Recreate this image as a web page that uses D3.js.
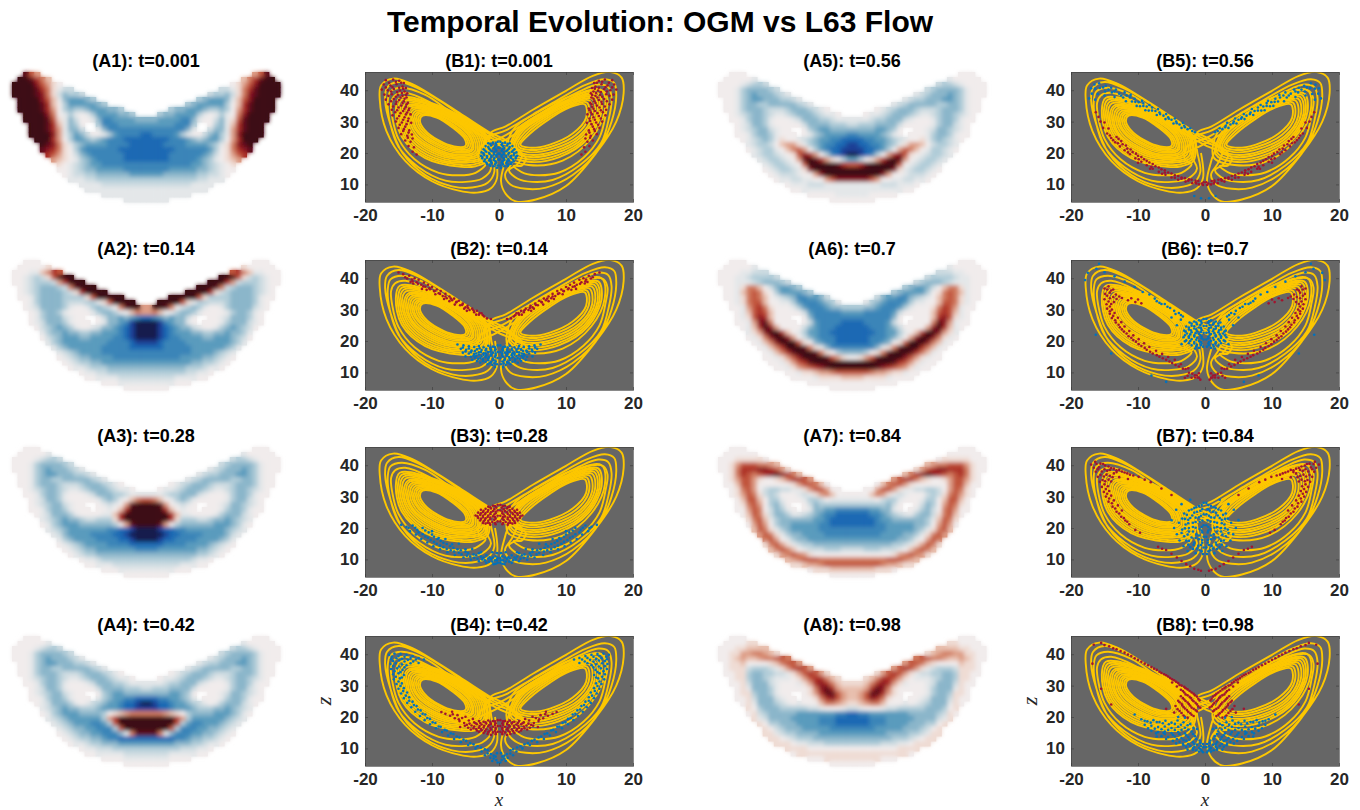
<!DOCTYPE html>
<html>
<head>
<meta charset="utf-8">
<style>
  html, body { margin: 0; padding: 0; background: #fff; }
  svg { display: block; }
  text { font-family: "Liberation Sans", Arial, sans-serif; }
</style>
<script src="https://cdn.jsdelivr.net/npm/d3@7"></script>
</head>
<body>
<svg id="fig" width="1360" height="810"></svg>
<script>
// heat map cells, left half only, the maps are mirror images
// '.' blank, a..i blue from weak to strong, 0 neutral, 1..9 red from weak to strong
const gridA1 = ["..853",".998642","999975310","99998641abb","99998741bdccb",".9999752adeeedc",".99998620ceeeeedc",".99998630cdccdeeeddc","..9999740aca0aceeeeddc","..9999851adb00adffeeeedd","...999862adc0..cfffeeeee","...999863addb..adfffffff","...999973acedb00aceffffg","....999630ceedcdefffgggg",".....98741acdeeeeffffggg",".....876410ceffffffggggg","......65310bdeffffffgggg",".......3210acdefffffgggg","........10abcdeeffffffff","........00abcddeeeeeffff",".........0abbccddddddeee","..........aaabbccccccccc","............aaaabbbbbbbb",".............aaaaaaaaaaa","................aaaaaaaa","....................aaaa"];
const gridA2 = ["..000",".000001","000aa2465","00abcb15999","00abcccb36999",".0abcdddcb48999",".0abcddddcb169999",".00acddddcccc1599999","..0acddddcbbbcca159999","..0abddddca00acdcb048993","...0acddca0000acddca0243","...0acdddba00..0bddedefg","...0abdddca000.0addefhii","....0bcdedca00abddefghii",".....acddeddccddeeefghii",".....0bcdeeeddeeeeffghii","......acdeeeeeeeeffffghh",".......acdeeeeeefffffggg","........abcdeeeeffffffff","........0abcddeeeeffffff",".........0abccddeeeeeeee","..........0aabcccddddddd","............0aabbccccccc",".............00aaaabbbbb","................000aaaaa","....................0000"];
const gridA3 = ["..000",".00000a","0000abccb","000acddddcb","000acdedddcba",".00acdeedddccba",".00acddccdddddcba",".00acdddcbbbcdddcba0","..0abcddcbaabcdddcbaa0","..00acddca000abdddccbaaa","...0abddca00000acdca0245","...0abcddba00..0aba03899","...00acddca000.00a026999","....0abdddca0000aa269999",".....abcdeddcbbccc169999",".....0acdeeeddddddc03899","......abcdeeeeeeeffgghii",".......abdeeeeffffgghiii","........acdeeeeffffgghii","........0abcdeeeeffffggg",".........0abcddeeeeeeeff","..........0abccddddddddd","............0aabcccccccc",".............00aaabbbbbb","................000aaaaa","....................0000"];
const gridA4 = ["..000",".00000a","0000abccb","000acddddcb","000acdedddcba",".00acdeedddccba",".00acddccdddddcba",".00acdddcbbbcdddcba0","..0abcddcbaabcdddcbaa0","..00acddca000abdddccbaaa","...0abddca00000bddddcccb","...0abcddba00..0cdeedddd","...00acddca000.acdeeffgg","....0abdddca0abcdeefgghi",".....abcdeddcccdeeefgghh",".....0acdeeeddddc0123444","......abcdeeeeeec3699999",".......abcdeeeffec599999","........abcddeefffc59999","........0abcddeefffda488",".........0abccddeffggggg","..........0aabccdddeeeee","............0aabbbcccccc",".............00aaaaabbbb","................0000aaaa","....................0000"];
const gridA5 = ["..000",".00000a","0000abccb","000acddddcb","000acdedddcba",".00acdeedddccba",".00acddccdddddcba",".00acdddcbbbcdddcba0","..0abcddcbaabcdddcbaa0","..00acddca000abdddccbaaa","...0abddca00000bddddcccb","...0abcddba00..0cdeedddd","...00acddca000.0acdeeeef","....0abcdca100abcdeeffgg",".....abccb02331acdeffggh",".....0abcca024530cefgghh","......abccba0157630cfghi",".......abccba038986310ce","........abccba0599999865","........0abccba179999999",".........0abbba003799999","..........0aabbaa0035777","............0aaabbbaaaaa",".............00aaaaaaaaa","................00000aaa","....................0000"];
const gridA6 = ["..000",".00000a","0000aabbb","000aabccccb","000aaabcdddcb",".00a14420bdeedc",".00a245410ceeeedc",".00a145420abcdffeedb","..0a1455200aacefffedca","..00a35641000acefffeddcc","...0a2565200000befffffee","...0a15762000..0dfffffff","...00a37840000.0beffffgg","....0a269730000bdefffggg",".....a13799620aceeffgggg",".....0a14799730bdefffggg","......0a247999510deffggg",".......0a246999841adffff","........0a24689998410cdd","........00a1357999985310",".........00a135689999999","..........00a13456789999","............00a112334555",".............0000a111122","................00000000","....................0000"];
const gridA7 = ["..000",".000000","000111110","00135554432","0014666776531",".01465456787642",".0135531001246653",".0025530000001355420","..014530bccbbaa1355300","..013541bcb000aba1342000","...025520cca000accb0aaaa","...014530cdb0..0bdcccccc","...003540bdca0.0addeefff","....02541bddcaabcdeffggg",".....1452acddddddeefgggg",".....03530cddeeeeeffgggg","......2541acdeeeeeffffff",".......3541acddeeeefffff","........4530acddeeeeeeee","........14531abccddddddd",".........245420abbbcccbb","..........13454310000000","............234555444444",".............11233455555","................01112222","....................0000"];
const gridA8 = ["..000",".000011","000112222","00113344321","0012322344554",".01120000124553",".0111bcccba135653",".0011cddccbba1356531","..011cddcbaaa013566421","..001bdddba000a136764211","...01adddca0000014786322","...011cddca00..013688532","...001bdddba00.001467532","....01adddcba0a000244321",".....10cdddcccccbba000ab",".....01bcdddddeeeeeeeffg","......1abddddeeeeefffggg",".......10ccdddeeeefffggg","........10bcdddeeeeeffff","........11abccddddeeeeee",".........110abcccddddddd","..........1110aabbbccccc","............111100000000",".............01111111111","................00011111","....................0000"];

// attractor, [x, z, x, z, ...]
const leftInner = [
  [-11.4,31.9,-9.3,31.3,-7,28.2,-5.1,24.4,-5,22.3,-6.7,22.1,-9,24,-11.1,27.4,-11.8,30.3],
  [-11.6,32.2,-9.4,31.6,-6.9,28.6,-4.9,24.7,-4.7,22,-6.6,21.6,-9.1,23.6,-11.4,27.2,-12.1,30.5],
  [-11.9,32.6,-9.5,32,-6.8,29,-4.7,25,-4.4,21.6,-6.5,21.1,-9.3,23.2,-11.7,27,-12.4,30.7],
  [-12.1,33,-9.6,32.4,-6.6,29.4,-4.4,25.2,-4.1,21.3,-6.4,20.6,-9.4,22.8,-12,26.8,-12.7,30.9],
  [-12.4,33.4,-9.7,32.8,-6.5,29.7,-4.2,25.3,-3.9,21,-6.3,20.1,-9.6,22.4,-12.2,26.6,-13,31],
  [-12.7,33.9,-9.8,33.2,-6.3,30,-3.9,25.3,-3.6,20.6,-6.2,19.5,-9.8,21.9,-12.5,26.3,-13.3,31.3],
  [-13,34.3,-9.9,33.6,-6.2,30.2,-3.6,25.3,-3.3,20.3,-6.1,19,-9.9,21.4,-12.8,26,-13.6,31.5],
  [-13.3,34.8,-10,34,-6,30.4,-3.3,25.4,-3,19.9,-6,18.5,-10.1,21,-13,25.9,-13.9,31.8],
  [-13.5,35.2,-10.1,34.3,-5.9,30.5,-3,25.5,-2.7,19.5,-5.9,18,-10.3,20.5,-13.3,25.8,-14.2,32],
  [-13.9,35.8,-10.2,34.8,-5.8,30.8,-2.7,25.5,-2.4,19,-5.8,17.4,-10.5,20,-13.6,25.6,-14.5,32.4],
  [-14.2,36.4,-10.3,35.3,-5.6,31,-2.4,25.5,-2.1,18.6,-5.7,16.9,-10.7,19.4,-13.9,25.4,-14.8,32.8],
  [-14.5,37,-10.5,35.8,-5.4,31.1,-2.1,25.4,-1.9,18.1,-3.7,16.4,-5.6,16.2,-10.9,18.9,-14.2,25.3,-15.1,33.1],
  [-14.8,37.6,-10.6,36.3,-5.3,31.2,-1.8,25.4,-1.7,17.6,-3.5,15.8,-5.6,15.6,-11,18.4,-14.5,25.2,-15.4,33.5]
];
const rightInner = [
  [12.8,35.5,10.3,34.3,7.5,30.8,4.7,26.3,3.2,22.6,4.5,21.7,7.6,22.7,11,26.2,13,31.2],
  [13.1,36.1,10.4,34.8,7.2,31.1,4.3,26.5,2.9,22.2,4.4,21,7.8,22,11.5,25.8,13.4,31.4],
  [13.5,36.7,10.5,35.4,7,31.5,3.9,26.7,2.6,21.9,4.3,20.3,8,21.3,12,25.5,13.9,31.7],
  [13.9,37.3,10.6,35.9,6.8,31.8,3.5,26.9,2.3,21.4,4.3,19.5,8.3,20.6,12.3,25.2,14.3,32.1],
  [14.2,37.9,10.8,36.5,6.5,32,3.2,27,2.1,20.9,4.3,18.8,8.5,20,12.7,25,14.7,32.5],
  [14.5,38.5,10.9,37,6.3,32.3,2.9,27,1.8,20.2,4.3,18,8.8,19.3,13,24.8,15,32.9],
  [14.8,39,11,37.5,6.2,32.6,2.6,27,1.6,19.6,4.4,17.2,9,18.7,13.3,24.7,15.3,33.2],
  [15.3,40,11.3,38.6,5.8,33,2,27.1,1.3,18.6,4.4,16.2,9.5,17.6,13.8,24.7,15.8,33.8]
];
// the long run that keeps switching between the wings
const crossingRun = [
  -0.6,20,-0.3,12,-1.2,8.8,-3.3,7.4,-6,8,-10,11,-14,17.5,-16.8,27,-17.8,37,-17.6,41.5,-15.8,43.7,-13,42,-9,37,-5,31.5,-1.5,26.7,1.6,23,
  1,18,0.3,11,1,7,2.5,4.6,5.5,5.2,10,9.5,14.5,20,17.5,30,18.6,39,18.3,44,16.7,45.8,14,44.6,10,39.8,5,33.7,1,28.5,-1.3,26.3,
  -1.2,21,-0.7,14,-1.7,10.5,-4,9,-7,9.4,-11,13,-14.4,20,-16.2,29,-17,37,-16.7,40.8,-15,42.6,-12,40.5,-8,35.5,-4.5,30.2,-1,25.4,2.6,21.2,
  2,17,0.9,13,1.7,10,4,8.6,7,9,11,13,15,21.5,16.8,30,17.5,38,17.2,42.3,15.8,43.5,13,41.8,9,37.2,5,32.2,1,27.2,-2,24.5,
  -2,19,-1.2,15,-2.5,11.9,-5,10.8,-8,11.2,-12,15.5,-15,22,-16.3,30,-16.6,36.5,-16.2,39.6,-14.5,40.8,-11,38.5,-7.5,33.5,-4,28.4,-0.5,24,3.4,20,
  2.8,16.5,1.5,14.5,2.8,11.8,5,10.8,8,11.4,12,16,15.2,23,16.4,31,16.8,37.5,16.3,41,14.8,41.8,12,39.6,8.5,35.6,4.5,30.4,0.6,25.2,-2.8,21.8,
  -3,18,-2,16.5,-3.5,13.7,-6,12.9,-9,13.7,-12.6,18,-15,24.5,-15.9,31,-16.1,36,-15.5,38.4,-14,39.2,-10.5,36.4,-7,31.6,-3.5,26.7,0,22.5,4,18.5,
  3.4,16,2.2,15.9,3.8,13.5,6,12.9,9,13.8,12.6,18.5,15,25,15.9,32,16.2,37,15.6,39.7,14,40,11,37.8,7.5,33,4,28.3,0,23,-3.5,19.5
];

// particles, left half only [x, z, ...], drawn on both sides
const b1Red = [-16.9,43.2,-15.8,43.4,-14.9,43,-14.2,42.3,-17.2,41.8,-16.2,41.5,-15.3,41.9,-14.4,41.2,-13.9,40.7,-17.5,40.2,-16.6,40,-15.7,40.4,-14.8,39.9,-14.1,39.6,-13.7,39,-17.1,38.6,-16,38.7,-15.1,38.5,-14.4,38.2,-13.8,37.7,-16.9,37,-15.7,37.2,-14.9,36.9,-14.2,36.5,-13.6,36,-16.5,35.5,-15.4,35.6,-14.6,35.1,-13.9,34.7,-13.4,34.2,-16,33.8,-15.2,33.6,-14.3,33.4,-13.7,32.9,-13.2,32.3,-15.9,32,-14.9,31.8,-14.1,31.4,-13.5,31,-15.4,30,-14.5,29.7,-13.8,29.2,-13.1,29.6,-15,28,-14.2,27.6,-13.4,27.2,-14.6,26,-13.7,25.5,-13,25.9,-14,24,-13.2,23.6,-13.5,22.2,-12.7,21.8,-12.9,20.4,-12.3,19.5,-16.4,42.4,-15.4,42.7,-14.6,42.4,-16.9,40.9,-15.9,41,-14.9,40.8,-14.3,40.5,-16.1,39.6,-15.2,39.4,-14.5,39.1,-13.9,38.5,-16.5,38.2,-15.4,37.9,-14.7,37.7,-14.1,37.3,-16.1,36.5,-15.3,36.3,-14.4,35.9,-13.8,35.5,-15.8,34.8,-15,34.5,-14.1,34.1,-13.5,33.6,-15.5,33,-14.7,32.7,-13.9,32.3,-15.2,31,-14.3,30.6,-13.6,30.2,-14.8,29,-14,28.4,-14.3,27,-13.5,26.5,-13.6,24.9,-12.9,24.6];
const b1Blue = [-0.2,23.6,-0.9,23.3,-1.6,23.1,-0.4,22.6,-1.2,22.4,-2,22.2,-0.1,21.7,-0.8,21.6,-1.5,21.4,-2.3,21.2,-0.4,20.7,-1.1,20.6,-1.9,20.4,-2.6,20.2,-0.1,19.8,-0.7,19.6,-1.4,19.7,-2.2,19.4,-2.7,19.1,-0.4,18.8,-1.1,18.7,-1.8,18.5,-2.5,18.3,-0.1,17.9,-0.8,17.8,-1.5,17.6,-2.2,17.4,-0.4,16.9,-1.1,16.8,-1.8,16.5,-0.2,16,-0.8,15.8,-1.3,15.9,-0.3,15.3,-0.5,23.1,-1.3,22.9,-0.6,22.1,-1.6,21.9,-0.5,21.2,-1.3,21,-2.1,20.8,-0.7,20.2,-1.5,20.1,-2.3,19.9,-0.4,19.3,-1.1,19.2,-1.8,19,-2.5,18.8,-0.7,18.3,-1.4,18.1,-2.1,17.9,-0.5,17.4,-1.2,17.3,-1.9,17,-0.6,16.4,-1.4,16.3];
const b2Red = [-15,41.8,-14.3,41.3,-14,40.3,-13.4,40.8,-13,39.6,-12.6,40,-12.3,38.7,-12,39.5,-11.6,37.9,-11.2,38.6,-11,37.3,-10.6,37.9,-10.3,36.5,-10,37.2,-9.7,35.9,-9.3,36.4,-9,35.2,-8.7,35.9,-8.4,34.3,-8,35,-7.8,33.6,-7.4,34.2,-7,33,-6.7,33.5,-6.4,32.3,-6,32.8,-5.8,31.4,-5.4,31.9,-5,30.7,-4.7,31.2,-4.4,29.9,-4,30.3,-3.7,29.2,-3.3,29.6,-3,28.4,-2.6,28.8,-2.2,27.8,-1.8,27.2,-12.8,38.3,-9.5,34.9,-6.6,31.6,-11.5,36.6,-8.2,33.4,-4.8,29.6,-13.7,39.9,-12.9,39,-12.1,38.2,-11.3,37.4,-10.4,36.8,-9.6,35.9,-8.8,35,-8,34.2,-7.2,33.5,-6.3,32.5,-5.5,31.5,-4.6,30.5,-3.8,29.8,-2.9,28.9,-13.2,38.8,-10.8,36.3,-7.4,32.7,-5.2,30.3,-3.4,28.4,-2.4,28.2,-1.2,27];
const b2Blue = [-0.2,18.6,-0.9,18.2,-1.6,18.5,-2.3,18,-3,18.4,-3.7,18.1,-4.5,18.3,-5.3,18.6,-6.2,18.9,-0.5,17.4,-1.2,17.2,-1.9,17.5,-2.6,17.1,-3.3,17.4,-4.1,17,-4.9,17.2,-5.7,17.5,-0.2,16.5,-0.9,16.3,-1.6,16.5,-2.3,16.1,-3,16.4,-3.7,15.9,-4.5,16,-5.4,16.3,-0.5,15.5,-1.2,15.3,-1.9,15.5,-2.6,15.1,-3.4,15.2,-4.2,15,-5,15.1,-0.2,14.6,-0.9,14.3,-1.6,14.5,-2.4,14.2,-3.1,14.3,-4,14,-0.5,13.5,-1.2,13.3,-2,13.4,-2.8,13.1,-0.3,12.6,-1,12.4,-1.7,12.6,-0.6,11.7,-0.6,18,-1.3,17.9,-2,17,-2.9,17.7,-3.6,16.8,-4.5,17.6,-5.4,17.9,-0.6,17,-1.3,16.6,-2,16.1,-2.7,16.5,-3.4,16,-4.2,16.4,-5,16.7,-0.5,16,-1.2,15.8,-2.3,15.6,-3,15.7,-3.8,15.4,-0.6,15,-1.5,14.9,-2,14.8,-2.8,14.6,-3.6,14.7,-0.8,13.9,-1.6,13.9,-2.4,13.6,-3.3,13.6,-0.7,12.9,-1.4,13];
const b3Red = [-0.2,27.4,-0.9,27.1,-1.6,26.8,-0.4,26.5,-1.2,26.2,-2,26.1,-2.7,25.8,-0.2,25.6,-0.9,25.4,-1.7,25.2,-2.4,25.1,-3.1,24.9,-0.5,24.7,-1.3,24.5,-2.1,24.4,-2.8,24.2,-3.5,24,-0.2,23.9,-0.9,23.7,-1.7,23.5,-2.4,23.4,-3.1,23.2,-0.5,23,-1.3,22.8,-2.1,22.6,-2.8,22.4,-0.2,22.1,-1,21.9,-1.7,21.7,-2.4,21.6,-0.5,21.2,-1.3,21,-0.6,27,-1.3,26.6,-0.7,26,-1.6,25.7,-2.3,25.5,-0.5,25.2,-1.2,25,-2,24.8,-2.7,24.7,-0.7,24.3,-1.6,24,-2.4,23.9,-3.2,23.7,-0.6,23.5,-1.3,23.3,-2,23.1,-2.7,22.9,-0.7,22.6,-1.6,22.3,-2.3,22.1,-0.6,21.6,-1.4,21.5,-2,21.4];
const b3Blue = [-14.6,21,-13.8,20.4,-12.9,20.8,-13.3,19,-12.2,19.4,-11.4,20,-12.4,17.9,-11.4,18,-10.5,18.6,-11.6,16.5,-10.6,16.9,-9.7,17.2,-10.7,15.4,-9.7,15.6,-8.7,15.9,-9.8,14.2,-8.8,14.4,-7.8,14.9,-8.8,13.2,-7.8,13.3,-6.8,13.7,-7.7,12.3,-6.7,12.5,-5.7,12.9,-6.6,11.4,-5.6,11.6,-4.6,12,-5.3,10.6,-4.3,10.9,-3.4,11.3,-4.2,9.9,-3.2,10.2,-2.3,10.6,-3,9.4,-2.1,9.7,-1.2,10.1,-1.9,8.9,-1,9.3,-0.3,9.7,-0.8,8.5,-0.2,8.9,-1.4,10.7,-0.5,11,-0.3,12,-1,12.3,-2.7,12.3,-4,13.3,-6,15,-8,16.5,-10,19,-13.5,20,-12.5,20.1,-12,18.6,-11,19.2,-11,17.3,-10,17.9,-10.2,16.2,-9.2,16.5,-9.3,15,-8.3,15.3,-8.3,13.9,-7.3,14.2,-7.2,12.9,-6.2,13.2,-6,12.1,-5,12.4,-4.8,11.2,-3.8,11.6,-3.7,10.5,-2.7,10.9,-2.5,10,-1.6,10.3,-1.5,9.3,-0.6,9.7,-0.5,8.6,-0.9,10.6,-0.2,10.4,-1.9,11.3,-3,12,-5,13.2,-7,14.8,-9,16.8];
const b4Red = [-0.2,19,-0.9,18.7,-1.6,18.9,-2.3,18.5,-3,18.7,-3.7,18.3,-0.5,18,-1.2,17.8,-1.9,17.9,-2.6,17.6,-3.3,17.7,-4.1,17.3,-4.8,17.5,-0.2,17.1,-0.9,16.9,-1.6,17,-2.3,16.7,-3,16.6,-3.8,16.4,-4.6,16.6,-0.5,16.2,-1.2,16,-1.9,16.1,-2.6,15.8,-3.3,15.7,-0.2,15.3,-0.9,15.1,-1.6,15.2,-2.3,14.9,-0.5,14.5,-1.2,14.3,-5.2,18.1,-5.9,18.7,-6.6,19.6,-7.3,20.4,-8,21,-4.5,18.9,-5.5,19.7,-6.2,20.6,-3.9,19.4,-5,20.1,-8.6,21.6,-7,21.7,-5.8,16.8,-0.6,18.6,-1.3,18.4,-2,18.3,-2.8,18.1,-3.5,18,-0.6,17.5,-1.5,17.4,-2.2,17.2,-2.9,17.1,-3.7,17,-0.5,16.6,-1.3,16.5,-2.7,16.2,-3.4,16.2,-4.2,16,-0.6,15.6,-1.4,15.6,-2.1,15.5,-3,15.3,-0.5,14.9,-1.7,14.6,-6,19.3,-6.9,20.9,-4.4,17.9,-5.1,17.2];
const b4Blue = [-16.4,39.8,-15.6,40.2,-14.7,40.1,-13.8,39.8,-12.9,39.4,-12,38.8,-11.2,38.3,-16.1,38.4,-15.3,38.7,-14.5,38.5,-13.6,38.2,-12.8,37.7,-12,37.2,-16.2,36.9,-15.4,37.1,-14.5,36.8,-13.8,36.5,-16.1,35.3,-15.2,35.5,-14.4,35,-15.8,33.6,-15,33.9,-14.2,33.4,-15.7,32,-14.8,32.3,-15.3,30.5,-14.5,30.7,-15,29,-14.2,29.2,-14.6,27.5,-13.7,27.8,-14.2,26,-13.4,26.3,-13.7,24.5,-12.9,24.9,-13.1,23.1,-12.3,23.5,-12.5,21.7,-11.7,22.1,-11.8,20.3,-11,20.8,-11.1,19,-10.3,19.4,-10.3,17.7,-9.5,18.1,-9.4,16.4,-8.7,16.9,-8.5,15.2,-7.8,15.7,-7.6,14.1,-6.8,14.6,-6.7,13,-5.9,13.5,-5.7,12,-4.9,12.4,-4.6,11.1,-3.8,11.3,-3.5,10,-2.7,10.3,-2.6,9,-1.7,9.4,-2.1,7.8,-1.2,8.2,-1.3,7,-0.5,7.4,-0.4,6.3,-1,6,-0.3,8.5,-0.2,5.5,-16,39.2,-15,39.4,-14.1,39.2,-13.2,38.8,-12.4,38.3,-15.8,37.8,-14.9,38,-14.1,37.7,-13.2,37.1,-15.8,36.2,-14.9,36.1,-14.1,35.8,-15.6,34.6,-14.7,34.3,-15.4,32.8,-14.5,32.6,-15,31.3,-14.7,29.9,-14.3,28.3,-13.9,26.8,-13.4,25.2,-12.7,23.8,-12.1,22.4,-11.4,21,-10.7,19.7,-9.9,18.3,-9,17,-8.1,15.9,-7.2,14.8,-6.3,13.8,-5.3,12.8,-4.3,11.7,-3.2,10.7,-2.1,9.7,-1.7,8.4,-0.8,7.7,-0.8,6.8];
const b5Red = [-14.6,26.2,-14,24.8,-13.2,25.1,-13.4,23.4,-12.5,23.8,-12.7,22.1,-11.8,22.4,-12,20.9,-11.1,21.1,-11.2,19.6,-10.3,19.8,-10.4,18.3,-9.5,18.7,-9.5,17.2,-8.7,17.5,-8.7,16.1,-7.8,16.5,-7.8,15,-6.9,15.4,-6.9,14,-6,14.5,-5.9,13.1,-5,13.5,-5,12.2,-4,12.7,-4,11.5,-3,12,-2.9,10.9,-2,11.5,-1.9,10.4,-1,11.1,-0.9,10,-0.2,10.7,-0.3,9.8,-15.2,28,-14.4,27.8,-15.6,30,-15,29.7,-10,16.9,-8.2,15,-6.4,13.4,-4.5,12.1,-2.5,11.2,-1.4,10.7,-16.3,33,-15.9,31.5,-14.2,25.6,-13.7,24.1,-12.9,24.5,-12.3,22.8,-11.6,21.4,-10.8,20.3,-10,19.1,-9.1,18,-8.3,17,-7.4,15.8,-6.5,14.8,-5.5,13.8,-4.5,12.9,-3.5,12.2,-2.4,11.6,-1.4,11.2,-0.5,10.3,-13,23.1,-11.5,20.2,-9.9,18,-8,15.6,-6,13.8,-3.5,11.8,-1.3,10.3];
const b5Blue = [-17,40.6,-16.5,41.8,-15.8,42.2,-16.9,38.9,-15.7,40.7,-14.8,41.4,-14,40.8,-13.3,40.2,-14.9,39.6,-13.9,39.3,-12.8,38.9,-12,39.3,-12.2,37.7,-11.2,37.7,-10.5,37.3,-10.9,36.4,-9.9,36.2,-9.2,35.9,-9.7,34.9,-8.7,34.8,-7.9,34.5,-8.4,33.5,-7.4,33.4,-6.8,32.9,-7.2,32.1,-6.2,31.9,-5.5,31.4,-5.9,30.8,-5,30.6,-4.3,30,-4.7,29.4,-3.8,29.1,-3.1,28.7,-3.5,28,-2.6,27.6,-1.9,27,-17.3,37.4,-16.4,37,-13.5,37.8,-11.8,36.5,-10.2,35,-8.9,33.6,-0.6,5.6,-1.6,6.3,-16.4,40.5,-15.2,40.9,-14.4,40.2,-13.5,39.6,-12.5,38.3,-11.7,38.3,-11.1,38.5,-10.4,36.3,-9.4,36.6,-9.2,35,-8.3,35.3,-7.9,33.5,-7,34,-6.7,32.4,-5.8,32.4,-5.4,30.9,-4.5,31,-4.2,29.5,-3.3,29.6,-3,28.2,-2.2,27.9,-1.5,26.6,-16,38.8,-15,38.3];
const b6Red = [-15,36.7,-14.4,37.4,-13.7,36.4,-14.9,35,-14.2,35.4,-13.3,34.8,-15,33.3,-14.2,33.6,-13.2,33.4,-12.4,33.7,-11.5,33,-10.4,32.4,-9.5,32,-14.7,31.7,-14,31.8,-14.6,30.3,-13.9,30,-14.2,28.7,-13.5,28.9,-13.9,27.3,-13,27.4,-13.3,25.9,-12.5,26,-12.7,24.4,-12,24.6,-12.1,23,-11.3,23.2,-11.4,21.5,-10.7,21.8,-10.7,20.3,-9.9,20.6,-9.9,19,-9.1,19.3,-9,17.8,-8.3,18.1,-8.2,16.6,-7.3,16.9,-7.2,15.5,-6.4,15.9,-6.3,14.5,-5.5,14.9,-5.3,13.5,-4.5,14,-4.4,12.4,-3.6,12.6,-3.3,11.2,-2.5,11.3,-2.4,9.9,-1.5,9.1,-1.1,8.4,-0.9,9.7,-2,8.3,-0.7,7.7,-3,8.3,-1.5,8.4,-14.6,36.4,-14,36.1,-14.6,34.4,-13.7,34,-12.8,34.2,-11,33.6,-10,33.2,-14.4,32.6,-13.6,32.4,-14.2,31,-14.2,29.5,-13.7,28,-13.4,26.6,-12.9,25.2,-12.4,23.7,-11.7,22.4,-11,21,-10.3,19.8,-9.5,18.4,-8.7,17.2,-7.8,16,-6.8,15,-5.8,14,-4.9,13,-3.9,11.9,-2.9,11.1,-1.9,9.6,-1.2,9,-2.6,8.9,-0.9,8.3];
const b6Blue = [-0.2,27,-0.9,26.6,-1.6,26.2,-2.3,25.9,-0.5,25.7,-1.2,25.3,-2,24.9,-2.8,24.6,-0.2,24.8,-0.9,24.3,-1.6,24,-2.4,23.7,-3.1,23.3,-0.5,23.5,-1.2,23.1,-2,22.8,-2.7,22.4,-0.2,22.6,-0.9,22.2,-1.6,21.8,-2.4,21.5,-3.2,21.2,-0.5,21.4,-1.2,21,-2,20.6,-2.8,20.2,-0.2,20.5,-0.9,20,-1.6,19.7,-2.4,19.3,-0.5,19.2,-1.2,18.8,-2,18.6,-0.3,18.2,-0.9,17.8,-1.5,17.6,-3.3,27.8,-3.9,28.9,-4.6,29.6,-3.6,26.8,-5.2,30.5,-6,31.8,-6.8,32.2,-7.5,33.5,-8.3,34.8,-9.3,35.6,-10.5,37.2,-12,38.9,-13.5,40.6,-15,41.9,-16.2,43,-17.5,41.7,-17.9,39.4,-15.8,44.6,-16.3,22,-14,16,-8,9,-5.8,7,-3.5,19,-4.2,25,-5,27.5,-0.6,26.3,-1.3,25.9,-2,25.6,-0.7,25.1,-1.6,24.7,-2.4,24.3,-0.6,24.1,-1.3,23.7,-2.1,23.4,-2.9,23,-0.6,22.9,-1.4,22.5,-2.2,22.1,-3,21.8,-0.7,21.9,-1.6,21.4,-2.4,21,-0.5,20.9,-1.3,20.4,-2.2,20,-3,19.9,-0.6,19.7,-1.6,19.2,-0.6,18.7,-1.3,18.3,-3.6,28.3,-4.4,28.6,-5.6,30.9,-6.5,31.8,-7.2,32.7];
const b7Red = [-17,40.2,-16.4,41.1,-15.6,40.5,-16.6,39.2,-15.8,39.3,-14.9,39.9,-14,39.1,-13.2,38.4,-12.4,38,-11.6,37.4,-10.7,36.7,-9.9,36.3,-9,35.4,-8.1,34.6,-16.3,37.9,-15.4,38,-14.6,38.2,-13.6,37.4,-16,36.3,-15.1,36.4,-14.2,36.6,-12.8,36.2,-11.5,35.6,-15.7,34.7,-14.9,34.9,-14,34.8,-15.4,33.1,-14.5,33.3,-15.1,31.5,-14.3,31.8,-14.8,30,-14,30.3,-14.4,28.4,-13.6,28.8,-13.8,26.8,-13,27.2,-13.2,25.2,-12.4,25.6,-12.5,23.6,-11.9,22.4,-11.3,21.2,-10.4,19.4,-9.7,18.5,-7,14,-5.8,13,-4.2,10.6,-2.8,8.5,-1.6,7,-0.6,6.4,-6.5,32.6,-5,30.5,-16.2,40.4,-15.2,40.4,-14.4,39.6,-13.6,38.9,-12.8,38.5,-12,37.7,-11.2,37,-16,38.7,-15,38.7,-14.2,38.5,-13.2,37.8,-15.6,36.9,-14.7,37,-13.8,36.2,-15.3,35.3,-14.4,35.4,-15,33.9,-14.8,32.4,-14.6,30.9,-14.3,29.4,-13.9,27.9,-13.4,26.2,-12.8,24.6,-12.1,23.2,-11.6,22,-6.4,13.4,-5,11.8,-3.5,9.5,-2.2,7.8,-1,6.7];
const b7Blue = [-0.2,28,-0.9,27,-1.6,26.4,-0.4,26,-2.4,25.6,-1.2,25.2,-3.1,24.6,-0.2,24.4,-1.9,24,-0.9,23.4,-3.4,23,-2.5,22.6,-0.4,22.4,-1.4,21.9,-3.9,21.7,-2.9,21.1,-0.2,20.9,-1.8,20.3,-0.8,19.7,-3.4,19.5,-2.4,18.9,-0.4,18.6,-1.3,18,-4.2,18,-3.1,17.4,-2,17,-0.2,17.2,-0.9,16.4,-2.8,16,-3.8,16,-1.6,15.4,-0.4,15.3,-2.5,14.7,-1,14.3,-3.2,14.2,-0.2,13.8,-1.8,13.3,-0.8,12.9,-2.6,12.7,-1.4,12,-0.3,11.7,-4.6,20,-5,22.5,-4.3,25.8,-3.5,27.6,-2.2,29,-0.5,27.3,-1.3,26.6,-2,25.9,-0.7,25.5,-1.6,24.9,-2.7,24.2,-0.6,23.9,-1.4,23.3,-2.2,23.2,-3,22.9,-0.8,22,-1.8,21.7,-2.5,21.5,-0.5,20.3,-1.4,20.1,-2.4,20,-3,19.9,-0.5,19.2,-1.8,18.9,-0.9,17.6,-2.6,17.9,-3.5,18.4,-1.4,16.8,-0.4,16.2,-2.4,15.9,-1.7,14.7,-0.6,14.6,-2.2,13.9,-1.2,13.5,-0.5,12.6];
const b8Red = [-16.6,43,-15.5,43.6,-14.3,42.5,-13.2,41.6,-12,40.5,-11,39.4,-10,38.2,-9,37,-8,35.9,-7.2,35,-6.5,34,-5.8,33.3,-5.2,32.4,-4.6,31.7,-4,30.8,-4.9,31,-3.5,30,-4.2,29.7,-2.9,29.2,-3.6,28.7,-2.3,28.3,-3.1,27.8,-1.7,27.4,-2.6,26.9,-3.6,26.6,-1.2,26.5,-2.1,26,-3.1,25.6,-4,25.2,-0.8,25.3,-1.7,25,-2.6,24.6,-3.5,24.2,-1.2,24,-2.2,23.6,-3.2,23.2,-4.4,23.5,-0.7,23,-1.7,22.6,-2.7,22.2,-3.8,21.9,-1.2,21.8,-2.2,21.2,-3.2,20.5,-4.6,21.4,-1.7,20.3,-2.6,19.8,-16.8,37,-15.5,29,-14,24,-5.8,22.6,-15,42.9,-13.7,41.9,-12.6,41,-11.5,39.9,-10.5,38.7,-9.5,37.6,-8.5,36.5,-7.6,35.4,-6.8,34.4,-6.1,33.6,-5.5,32.9,-4.9,32,-4.3,31.2,-3.8,30.2,-3.1,29.6,-2.6,28.8,-3.3,28.3,-2,27.8,-2.9,27.2,-1.5,26.9,-2.3,26.4,-3.3,26,-1,25.8,-1.9,25.4,-2.9,25.1,-3.8,24.7,-1.4,24.5,-2.4,24.1,-3.4,23.7,-1,23.4,-2,23,-3,22.7,-4.1,22.5,-1.4,22.2,-2.5,21.7,-3.5,21.3,-2,20.7,-3,20.1];
const b8Blue = [-9.5,19.3,-8.6,18.6,-7.7,19,-6.8,18.4,-5.9,18.8,-5,18.2,-4.1,18.9,-3.2,18.3,-9,17.5,-8,17.2,-7,16.8,-6,17,-5,16.5,-4,16.9,-3,16.6,-2.2,17.8,-8,15.6,-7,15.2,-6,15.4,-5,14.9,-4,15.2,-3,14.8,-2,15.4,-1.2,16.2,-6.5,13.9,-5.5,13.6,-4.5,13.8,-3.5,13.3,-2.5,13.6,-1.5,13.9,-4.8,12.4,-3.8,12.1,-2.8,12.4,-1.8,12,-0.8,12.5,-3.2,11,-2.2,10.8,-1.2,11.2,-0.3,11.4,-1.8,10,-0.9,10.1,-0.2,10.4,-1.3,9.4,-0.5,9.3,-2.6,9.6,-0.3,8.8,-10.5,20.8,-4,20,-3,19.8,-6,14.6,-7.2,13.8,-9,18.8,-8.1,18.2,-7.2,18.4,-6.3,18,-5.4,17.7,-4.5,17.8,-3.6,17.5,-2.6,17.4,-8.5,16.4,-7.5,16.3,-6.5,16.1,-5.5,15.9,-4.5,15.9,-3.5,15.9,-2.5,16,-1.7,16.5,-7.3,14.8,-6.2,15,-4.8,14.3,-3.8,14.5,-2.8,14.2,-1.8,14.6,-5.8,13,-4.2,13,-3.2,12.7,-2.3,12.8,-1.3,13,-4.3,11.6,-3.3,11.5,-2.5,11.4,-1.6,11.4,-0.7,11.8,-2.8,10.5,-1.6,10.5,-0.6,10.7,-0.7,9.8,-1.8,9.6,-0.9,9];

const mapGrids = [gridA1, gridA2, gridA3, gridA4, gridA5, gridA6, gridA7, gridA8];
const redSets = [b1Red, b2Red, b3Red, b4Red, b5Red, b6Red, b7Red, b8Red];
const blueSets = [b1Blue, b2Blue, b3Blue, b4Blue, b5Blue, b6Blue, b7Blue, b8Blue];
const times = ["0.001", "0.14", "0.28", "0.42", "0.56", "0.7", "0.84", "0.98"];
const xTicks = [-20, -10, 0, 10, 20];
const zTicks = [10, 20, 30, 40];
const balanceColors = ["#141a4e","#1a3f96","#1b69b4","#3a85b8","#5a9bbd","#8bb6ca","#b0ccd8","#cddbe1","#e4e7e9","#f1ecec","#efdcd4","#e8bfae","#dd9c85","#d07a5e","#c1553c","#ac2f28","#8b1524","#5e0a1b","#3c0912"];

const panelW = 268, panelH = 130;
const rowTops = [72, 260, 447, 636];
const mapLefts = [12, 718];
const flowLefts = [365, 1071];

const svg = d3.select("#fig");
const color = d3.scaleLinear().domain(d3.range(-9, 10)).range(balanceColors);
const colX = d3.scaleBand().domain(d3.range(48)).range([0, panelW]);
const rowY = d3.scaleBand().domain(d3.range(26)).range([0, panelH]);
const x = d3.scaleLinear().domain([-20, 20]).range([0, panelW]);
const z = d3.scaleLinear().domain([4.4, 45.8]).range([panelH, 0]);

const defs = svg.append("defs");
defs.append("filter").attr("id", "soft").append("feGaussianBlur").attr("stdDeviation", 2.3);
defs.append("clipPath").attr("id", "plotClip").append("rect").attr("width", panelW).attr("height", panelH);

function pairs(flat) {
  let out = [];
  for (let i = 0; i < flat.length; i += 2) out.push([flat[i], flat[i + 1]]);
  return out;
}

function cellValue(ch) {
  if (ch >= "a" && ch <= "i") return -(ch.charCodeAt(0) - 96);
  if (ch >= "0" && ch <= "9") return +ch;
  return null;
}

function drawCells(g, cells) {
  g.selectAll("rect").data(cells).enter().append("rect")
    .attr("x", d => colX(d.c))
    .attr("y", d => rowY(d.r))
    .attr("width", colX.bandwidth() + 0.5)
    .attr("height", rowY.bandwidth() + 0.5)
    .attr("fill", d => color(d.v));
}

function drawMap(g, rows) {
  let cells = [];
  rows.forEach(function(row, r) {
    row.split("").forEach(function(ch, c) {
      let v = cellValue(ch);
      if (v === null) return;
      cells.push({r: r, c: c, v: v});
      cells.push({r: r, c: 47 - c, v: v});
    });
  });
  // crisp layer keeps the stepped outline, the soft layer on top hides the cell edges inside
  drawCells(g.append("g"), cells);
  drawCells(g.append("g").attr("filter", "url(#soft)"), cells);
}

function drawFlow(g, red, blue) {
  g.append("rect").attr("width", panelW).attr("height", panelH).attr("fill", "#666666");

  let body = g.append("g").attr("clip-path", "url(#plotClip)");
  let closed = d3.line().x(d => x(d[0])).y(d => z(d[1])).curve(d3.curveCatmullRomClosed.alpha(0.5));
  let open = d3.line().x(d => x(d[0])).y(d => z(d[1])).curve(d3.curveCatmullRom.alpha(0.5));

  leftInner.concat(rightInner).forEach(function(loop) {
    body.append("path").attr("d", closed(pairs(loop)))
      .attr("fill", "none").attr("stroke", "#fdc700").attr("stroke-width", 1.9);
  });
  body.append("path").attr("d", open(pairs(crossingRun)))
    .attr("fill", "none").attr("stroke", "#fdc700").attr("stroke-width", 1.9);

  [[red, "#a2142f"], [blue, "#0072bd"]].forEach(function(set) {
    let pts = pairs(set[0]);
    pts = pts.concat(pts.map(d => [-d[0], d[1]]));
    body.append("g").selectAll("circle").data(pts).enter().append("circle")
      .attr("cx", d => x(d[0]))
      .attr("cy", d => z(d[1]))
      .attr("r", 1.3)
      .attr("fill", set[1]);
  });

  // box with inward ticks on all four sides, MATLAB style
  g.append("g").attr("class", "axis").attr("transform", "translate(0," + panelH + ")")
    .call(d3.axisBottom(x).tickValues(xTicks).tickSizeInner(-3).tickSizeOuter(0).tickPadding(7).tickFormat(String));
  g.append("g").attr("class", "axis")
    .call(d3.axisLeft(z).tickValues(zTicks).tickSizeInner(-3).tickSizeOuter(0).tickPadding(6).tickFormat(String));
  g.append("g").attr("class", "axis")
    .call(d3.axisTop(x).tickValues(xTicks).tickSizeInner(-3).tickSizeOuter(0).tickFormat(""));
  g.append("g").attr("class", "axis").attr("transform", "translate(" + panelW + ",0)")
    .call(d3.axisRight(z).tickValues(zTicks).tickSizeInner(-3).tickSizeOuter(0).tickFormat(""));

  g.selectAll(".axis text").attr("fill", "#262626").style("font-size", "17px").style("font-weight", "bold");
  g.selectAll(".axis path, .axis line").attr("stroke", "#3a3a3a").attr("stroke-width", 0.6);
}

function subtitle(left, top, label) {
  svg.append("text")
    .attr("x", left + panelW / 2)
    .attr("y", top - 5)
    .attr("text-anchor", "middle")
    .style("font-size", "18px")
    .style("font-weight", "bold")
    .attr("fill", "#000")
    .text(label);
}

function mathLabel(px, py, label, rotate, size) {
  svg.append("text")
    .attr("transform", "translate(" + px + "," + py + ")" + (rotate ? " rotate(-90)" : ""))
    .attr("text-anchor", "middle")
    .style("font-family", "'Liberation Serif', serif")
    .style("font-style", "italic")
    .style("font-size", size + "px")
    .attr("fill", "#262626")
    .text(label);
}

// two blocks of four rows, map column then flow column
times.forEach(function(t, i) {
  let block = Math.floor(i / 4);
  let top = rowTops[i % 4];
  let n = i + 1;

  let mapG = svg.append("g").attr("transform", "translate(" + mapLefts[block] + "," + top + ")");
  drawMap(mapG, mapGrids[i]);
  subtitle(mapLefts[block], top, "(A" + n + "): t=" + t);

  let flowG = svg.append("g").attr("transform", "translate(" + flowLefts[block] + "," + top + ")");
  drawFlow(flowG, redSets[i], blueSets[i]);
  subtitle(flowLefts[block], top, "(B" + n + "): t=" + t);
});

svg.append("text")
  .attr("x", 660)
  .attr("y", 32)
  .attr("text-anchor", "middle")
  .style("font-size", "30px")
  .style("font-weight", "bold")
  .attr("fill", "#000")
  .text("Temporal Evolution: OGM vs L63 Flow");

mathLabel(499, 805.5, "x", false, 19);
mathLabel(1205, 805.5, "x", false, 19);
mathLabel(331, 701, "z", true, 22);
mathLabel(1037, 701, "z", true, 22);
</script>
</body>
</html>
